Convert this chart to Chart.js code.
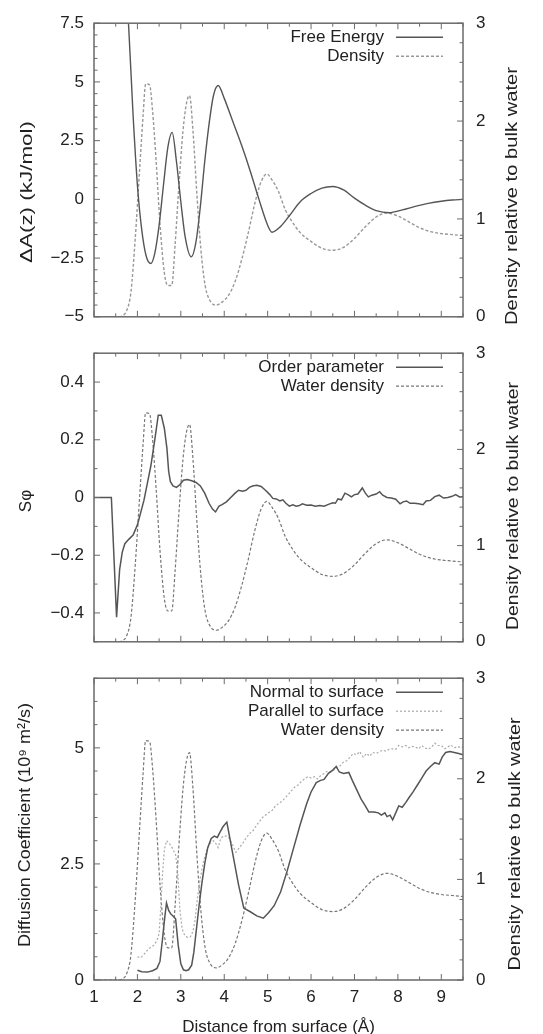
<!DOCTYPE html>
<html>
<head>
<meta charset="utf-8">
<script src="https://cdn.jsdelivr.net/npm/chart.js@4.4.1/dist/chart.umd.min.js"></script>
<style>
  body { margin: 0; background: #fff; overflow: hidden; width: 543px; height: 1034px; position: relative; }
  .panel { position: absolute; left: 0; width: 543px; }
</style>
</head>
<body>
<div class="panel" style="top:0;height:340px"><canvas id="energy"></canvas></div>
<div class="panel" style="top:330px;height:335px"><canvas id="order"></canvas></div>
<div class="panel" style="top:655px;height:379px"><canvas id="diffusion"></canvas></div>
<script>
// tick labels
const xTicks = [1, 2, 3, 4, 5, 6, 7, 8, 9];
const densTicks = [0, 1, 2, 3];
const feTicks = [-5, -2.5, 0, 2.5, 5, 7.5];
const opTicks = [-0.4, -0.2, 0, 0.2, 0.4];
const diffTicks = [0, 2.5, 5];

// water density relative to bulk (same profile in all three panels)
const densX = [1.00, 1.55, 1.65, 1.75, 1.85, 1.95, 2.05, 2.13, 2.19, 2.28, 2.35, 2.43, 2.52, 2.62, 2.70, 2.79, 2.87, 2.95,
  3.05, 3.13, 3.20, 3.28, 3.37, 3.46, 3.56, 3.68, 3.82, 3.95, 4.10, 4.25, 4.40, 4.55, 4.70, 4.85, 4.98, 5.10, 5.25,
  5.40, 5.55, 5.75, 6.00, 6.25, 6.50, 6.75, 7.00, 7.25, 7.50, 7.75, 8.00, 8.25, 8.50, 8.75, 9.00, 9.25, 9.50];
const densY = [0, 0, 0.01, 0.06, 0.25, 0.8, 1.5, 2.05, 2.38, 2.37, 2.1, 1.6, 0.95, 0.45, 0.32, 0.32, 0.75, 1.3,
  1.9, 2.18, 2.26, 1.9, 1.25, 0.7, 0.32, 0.16, 0.12, 0.15, 0.22, 0.36, 0.58, 0.85, 1.15, 1.38, 1.46, 1.4, 1.28,
  1.1, 0.98, 0.86, 0.77, 0.7, 0.68, 0.71, 0.8, 0.92, 1.02, 1.06, 1.03, 0.97, 0.91, 0.87, 0.85, 0.84, 0.83];

// free energy, kJ/mol
const feX = [1.70, 1.80, 1.90, 2.00, 2.10, 2.20, 2.31, 2.40, 2.50, 2.60, 2.70, 2.80, 2.90, 3.00, 3.10, 3.24, 3.35,
  3.45, 3.55, 3.65, 3.75, 3.86, 4.00, 4.20, 4.40, 4.60, 4.80, 5.00, 5.10, 5.30, 5.50, 5.75, 6.00, 6.25, 6.50, 6.75,
  7.00, 7.25, 7.50, 7.80, 8.10, 8.40, 8.70, 9.00, 9.25, 9.50];
const feY = [10, 7.3, 3.6, 0.6, -1.3, -2.4, -2.73, -2.3, -1.1, 0.6, 2.2, 2.85, 1.6, -0.1, -1.6, -2.45, -1.8,
  -0.3, 1.6, 3.2, 4.4, 4.85, 4.3, 3.3, 2.3, 1.2, 0.0, -1.1, -1.4, -1.15, -0.7, -0.1, 0.25, 0.48, 0.55, 0.4,
  0.05, -0.25, -0.48, -0.57, -0.45, -0.3, -0.17, -0.08, -0.03, 0.0];

// order parameter
const opX = [1.00, 1.40, 1.52, 1.59, 1.65, 1.71, 1.80, 1.90, 2.00, 2.08, 2.15, 2.23, 2.31, 2.40, 2.48, 2.55, 2.62,
  2.68, 2.72, 2.76, 2.82, 2.90, 2.98, 3.06, 3.15, 3.25, 3.35, 3.45, 3.55, 3.65, 3.73, 3.80, 3.88, 3.95, 4.05, 4.15,
  4.25, 4.33, 4.42, 4.50, 4.58, 4.65, 4.75, 4.85, 4.95, 5.05, 5.12, 5.20, 5.28, 5.35, 5.42, 5.50, 5.58, 5.66, 5.73,
  5.80, 5.90, 6.00, 6.10, 6.20, 6.30, 6.40, 6.50, 6.56, 6.62, 6.70, 6.78, 6.85, 6.93, 7.00, 7.08, 7.18, 7.25, 7.32,
  7.40, 7.50, 7.58, 7.65, 7.75, 7.85, 7.95, 8.05, 8.12, 8.20, 8.28, 8.38, 8.48, 8.58, 8.65, 8.75, 8.85, 8.95, 9.05,
  9.15, 9.25, 9.33, 9.42, 9.50];
const opY = [0, 0, -0.415, -0.25, -0.19, -0.16, -0.145, -0.13, -0.095, -0.05, -0.01, 0.05, 0.11, 0.2, 0.285, 0.285, 0.24,
  0.17, 0.09, 0.055, 0.04, 0.035, 0.045, 0.06, 0.062, 0.058, 0.052, 0.04, 0.015, -0.02, -0.04, -0.05, -0.03, -0.025, -0.015, 0,
  0.015, 0.025, 0.022, 0.025, 0.035, 0.04, 0.042, 0.038, 0.025, 0.01, -0.003, -0.005, -0.012, -0.008, -0.02, -0.03, -0.025, -0.03, -0.028,
  -0.022, -0.027, -0.026, -0.03, -0.028, -0.03, -0.024, -0.018, -0.02, -0.005, -0.008, 0.015, 0.01, 0.002, 0.01, 0.012, 0.033, 0.015, 0.002,
  0.008, 0.012, 0.02, 0.008, 0, -0.002, -0.006, -0.022, -0.015, -0.012, -0.02, -0.02, -0.022, -0.025, -0.012, -0.01, 0.003, 0.008, -0.002,
  0, 0.004, 0.01, 0.002, 0.003];

// diffusion coefficient normal to surface
const normX = [2.00, 2.10, 2.23, 2.35, 2.45, 2.52, 2.58, 2.63, 2.67, 2.72, 2.77, 2.82, 2.88, 2.94, 3.00, 3.06, 3.12,
  3.18, 3.25, 3.30, 3.36, 3.42, 3.48, 3.55, 3.62, 3.70, 3.77, 3.84, 3.90, 3.97, 4.06, 4.13, 4.22, 4.33, 4.45, 4.60,
  4.75, 4.90, 5.02, 5.15, 5.30, 5.45, 5.60, 5.75, 5.90, 6.00, 6.12, 6.22, 6.30, 6.40, 6.50, 6.58, 6.65, 6.75, 6.87,
  6.95, 7.05, 7.15, 7.25, 7.33, 7.45, 7.55, 7.62, 7.70, 7.75, 7.82, 7.88, 7.95, 8.02, 8.10, 8.18, 8.25, 8.35, 8.45,
  8.55, 8.65, 8.75, 8.85, 8.95, 9.02, 9.10, 9.20, 9.30, 9.40, 9.50];
const normY = [0.21, 0.18, 0.17, 0.2, 0.25, 0.4, 0.9, 1.35, 1.66, 1.5, 1.42, 1.38, 1.32, 0.75, 0.35, 0.22, 0.2,
  0.22, 0.32, 0.6, 1.1, 1.6, 2.05, 2.5, 2.85, 3.05, 3.1, 3.07, 3.18, 3.3, 3.4, 3.05, 2.6, 2.05, 1.55, 1.47,
  1.38, 1.33, 1.45, 1.6, 1.9, 2.35, 2.85, 3.35, 3.8, 4.05, 4.25, 4.3, 4.32, 4.45, 4.52, 4.6, 4.48, 4.45, 4.47,
  4.3, 4.1, 3.9, 3.75, 3.62, 3.62, 3.6, 3.55, 3.6, 3.52, 3.55, 3.45, 3.6, 3.75, 3.72, 3.82, 3.92, 4.05, 4.2,
  4.35, 4.5, 4.6, 4.68, 4.65, 4.8, 4.9, 4.92, 4.9, 4.88, 4.85];

// diffusion coefficient parallel to surface
const parX = [2.00, 2.08, 2.15, 2.23, 2.30, 2.38, 2.45, 2.50, 2.54, 2.58, 2.62, 2.67, 2.73, 2.80, 2.88, 2.93, 2.98,
  3.03, 3.09, 3.15, 3.22, 3.28, 3.33, 3.38, 3.45, 3.52, 3.60, 3.68, 3.75, 3.80, 3.86, 3.92, 3.98, 4.05, 4.12, 4.20,
  4.27, 4.35, 4.43, 4.50, 4.58, 4.65, 4.72, 4.80, 4.88, 4.95, 5.02, 5.10, 5.18, 5.25, 5.33, 5.40, 5.48, 5.55, 5.62,
  5.70, 5.78, 5.85, 5.93, 6.00, 6.08, 6.15, 6.22, 6.30, 6.38, 6.45, 6.52, 6.60, 6.68, 6.75, 6.82, 6.90, 6.97, 7.05,
  7.12, 7.20, 7.28, 7.35, 7.42, 7.50, 7.58, 7.65, 7.72, 7.80, 7.88, 7.95, 8.02, 8.10, 8.18, 8.25, 8.32, 8.40, 8.48,
  8.55, 8.62, 8.70, 8.78, 8.85, 8.92, 9.00, 9.08, 9.15, 9.22, 9.30, 9.38, 9.45, 9.50];
const parY = [0.5, 0.48, 0.55, 0.64, 0.7, 0.75, 0.85, 1.0, 1.6, 2.3, 2.8, 3.0, 2.95, 2.85, 2.7, 2.3, 1.5,
  1.1, 0.96, 0.92, 0.93, 1.05, 1.3, 1.75, 2.2, 2.55, 2.8, 2.95, 3.0, 2.95, 2.85, 3.05, 3.1, 3.1, 3.05, 2.9,
  2.75, 2.85, 2.95, 3.05, 3.15, 3.2, 3.3, 3.4, 3.5, 3.55, 3.6, 3.65, 3.75, 3.8, 3.85, 3.92, 4.0, 4.08, 4.15,
  4.2, 4.28, 4.33, 4.38, 4.35, 4.38, 4.33, 4.4, 4.45, 4.5, 4.48, 4.52, 4.58, 4.62, 4.7, 4.72, 4.8, 4.88, 4.85,
  4.92, 4.8, 4.88, 4.82, 4.9, 4.88, 4.92, 4.95, 4.93, 4.97, 4.98, 4.97, 5.05, 5.02, 5.05, 5.0, 5.03, 5.02, 4.98,
  5.05, 5.0, 4.97, 5.02, 5.1, 5.05, 5.05, 4.98, 5.02, 5.06, 5.0, 5.03, 5.0, 5.02];

const FONT = "'Liberation Sans', Arial, Helvetica, sans-serif";
const INK = '#222';
const minus = v => String(v).replace('-', '\u2212');
const pts = (xs, ys) => xs.map((x, i) => ({ x: x, y: ys[i] }));

// gnuplot style frame, inward ticks, key and axis labels
function gnuplotLook(cfg) {
  return {
    id: 'gnuplotLook',
    afterDraw(chart) {
      const ctx = chart.ctx, a = chart.chartArea;
      ctx.save();
      ctx.strokeStyle = '#6a6a6a';
      ctx.lineWidth = 1;
      const marks = (scale, step, major, draw) => {
        const n = Math.round((scale.max - scale.min) / step);
        for (let i = 0; i <= n; i++) {
          const v = scale.min + i * step;
          const r = v / major;
          const len = Math.abs(r - Math.round(r)) < 1e-6 ? 6 : 3.5;
          draw(scale.getPixelForValue(v), len);
        }
      };
      ctx.beginPath();
      marks(chart.scales.x, 0.5, 1, (p, l) => {
        ctx.moveTo(p, a.bottom); ctx.lineTo(p, a.bottom - l);
        ctx.moveTo(p, a.top); ctx.lineTo(p, a.top + l);
      });
      marks(chart.scales.y, cfg.yMinor, cfg.yMajor, (p, l) => {
        ctx.moveTo(a.left, p); ctx.lineTo(a.left + l, p);
      });
      marks(chart.scales.y2, 0.2, 1, (p, l) => {
        ctx.moveTo(a.right, p); ctx.lineTo(a.right - l, p);
      });
      ctx.stroke();
      ctx.lineWidth = 1.5;
      ctx.strokeRect(a.left, a.top, a.right - a.left, a.bottom - a.top);

      // key
      ctx.font = '17px ' + FONT;
      ctx.fillStyle = INK;
      ctx.textAlign = 'right';
      ctx.textBaseline = 'middle';
      chart.data.datasets.forEach((ds, i) => {
        const y = a.top + 14 + i * 19;
        ctx.fillText(ds.label, 384, y);
        ctx.strokeStyle = ds.borderColor;
        ctx.lineWidth = ds.borderWidth;
        ctx.setLineDash(ds.borderDash);
        ctx.beginPath(); ctx.moveTo(396, y); ctx.lineTo(443, y); ctx.stroke();
        ctx.setLineDash([]);
      });

      // rotated axis labels
      ctx.textAlign = 'center';
      cfg.titles.forEach(t => {
        ctx.save();
        ctx.translate(t.x, t.y);
        ctx.rotate(-Math.PI / 2);
        const w = ctx.measureText(t.text).width;
        if (t.len) ctx.scale(t.len / w, 1);
        ctx.fillText(t.text, 0, 0);
        ctx.restore();
      });
      ctx.restore();
    }
  };
}

function panel(id, cfg) {
  return new Chart(document.getElementById(id), {
    type: 'line',
    data: {
      datasets: cfg.sets.map(s => ({
        label: s.label,
        data: pts(s.xs, s.ys),
        yAxisID: s.axis,
        borderColor: s.color,
        borderWidth: s.width,
        borderDash: s.dash,
        pointRadius: 0,
        fill: false,
        cubicInterpolationMode: s.smooth ? 'monotone' : 'default',
        tension: 0
      }))
    },
    options: {
      responsive: true,
      maintainAspectRatio: false,
      animation: false,
      devicePixelRatio: 1,
      layout: { padding: { top: cfg.padTop, bottom: 0, left: 0, right: 0 } },
      plugins: { legend: { display: false }, tooltip: { enabled: false } },
      scales: {
        x: {
          type: 'linear', min: 1, max: 9.5,
          grid: { display: false, drawTicks: false }, border: { display: false },
          ticks: { display: cfg.showX, padding: 7, color: INK, font: { size: 17, family: FONT } },
          title: { display: cfg.showX, text: 'Distance from surface (Å)', color: INK,
                   font: { size: 17, family: FONT }, padding: { top: 0, bottom: -4 } },
          afterBuildTicks: s => { s.ticks = xTicks.map(v => ({ value: v })); },
          afterFit: s => { s.height = cfg.xHeight; }
        },
        y: {
          position: 'left', min: cfg.yMin, max: cfg.yMax,
          grid: { display: false, drawTicks: false }, border: { display: false },
          ticks: { padding: 10, color: INK, font: { size: 17, family: FONT }, callback: v => minus(v) },
          afterBuildTicks: s => { s.ticks = cfg.yTicks.map(v => ({ value: v })); },
          afterFit: s => { s.width = 94; }
        },
        y2: {
          position: 'right', min: 0, max: 3,
          grid: { display: false, drawTicks: false }, border: { display: false },
          ticks: { padding: 13, color: INK, font: { size: 17, family: FONT } },
          afterBuildTicks: s => { s.ticks = densTicks.map(v => ({ value: v })); },
          afterFit: s => { s.width = 80; }
        }
      }
    },
    plugins: [gnuplotLook(cfg)]
  });
}

const rightTitle = 'Density relative to bulk water';

panel('energy', {
  padTop: 22, xHeight: 12, showX: false,
  yMin: -5, yMax: 7.5, yTicks: feTicks, yMinor: 0.5, yMajor: 2.5,
  titles: [
    { text: 'ΔA(z) (kJ/mol)', x: 27, y: 192, len: 142 },
    { text: rightTitle, x: 512, y: 196, len: 258 }
  ],
  sets: [
    { label: 'Free Energy', xs: feX, ys: feY, axis: 'y', color: '#555', width: 1.4, dash: [], smooth: true },
    { label: 'Density', xs: densX, ys: densY, axis: 'y2', color: '#999', width: 1.4, dash: [3, 2], smooth: true }
  ]
});

panel('order', {
  padTop: 18, xHeight: 12, showX: false,
  yMin: -0.5, yMax: 0.5, yTicks: opTicks, yMinor: 0.1, yMajor: 0.2,
  titles: [
    { text: 'Sφ', x: 26, y: 171 },
    { text: rightTitle, x: 513, y: 176, len: 248 }
  ],
  sets: [
    { label: 'Order parameter', xs: opX, ys: opY, axis: 'y', color: '#555', width: 1.5, dash: [], smooth: false },
    { label: 'Water density', xs: densX, ys: densY, axis: 'y2', color: '#777', width: 1.2, dash: [3, 2], smooth: true }
  ]
});

panel('diffusion', {
  padTop: 19, xHeight: 54, showX: true,
  yMin: 0, yMax: 6.5, yTicks: diffTicks, yMinor: 0.5, yMajor: 2.5,
  titles: [
    { text: 'Diffusion Coefficient (10⁹ m²/s)', x: 25, y: 170, len: 244 },
    { text: rightTitle, x: 515, y: 189, len: 253 }
  ],
  sets: [
    { label: 'Normal to surface', xs: normX, ys: normY, axis: 'y', color: '#555', width: 1.5, dash: [], smooth: false },
    { label: 'Parallel to surface', xs: parX, ys: parY, axis: 'y', color: '#aaa', width: 1.2, dash: [2, 2], smooth: false },
    { label: 'Water density', xs: densX, ys: densY, axis: 'y2', color: '#777', width: 1.2, dash: [3, 2], smooth: true }
  ]
});
</script>
</body>
</html>
